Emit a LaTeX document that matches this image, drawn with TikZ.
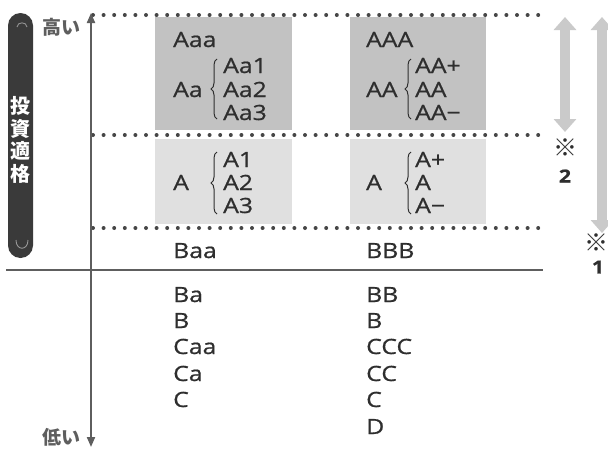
\documentclass[tikz,border=0pt]{standalone}
\usepackage{fontspec}
\setmainfont{Open Sans}[FakeStretch=1.18, FakeBold=0.8]
\newfontfamily\jp{Noto Sans CJK JP}
\usetikzlibrary{arrows.meta,decorations.pathreplacing}
\definecolor{txt}{HTML}{2E2E2E}
\definecolor{pill}{HTML}{3A3A3A}
\definecolor{darkbox}{HTML}{C2C2C2}
\definecolor{lightbox}{HTML}{E0E0E0}
\definecolor{dotc}{HTML}{464646}
\definecolor{axisc}{HTML}{5E5E5E}
\definecolor{grayarrow}{HTML}{CACACA}
\tikzset{
  lbl/.style={anchor=base west, inner sep=0pt, text=txt, font=\fontsize{21}{21}\selectfont},
  jplbl/.style={anchor=center, inner sep=0pt, text=axisc, font=\jp\bfseries\fontsize{19}{19}\selectfont},
  pilltxt/.style={anchor=center, inner sep=0pt, text=white, font=\jp\bfseries\fontsize{20}{20}\selectfont},
  notelbl/.style={anchor=center, inner sep=0pt, text=txt, font=\jp\bfseries\fontsize{24}{24}\selectfont},
  numlbl/.style={anchor=center, inner sep=0pt, text=txt, font=\bfseries\fontsize{18}{18}\selectfont},
  dotline/.style={line width=4pt, line cap=round, dash pattern=on 0pt off 10.6pt, draw=dotc},
  axisline/.style={line width=2pt, draw=axisc, {Triangle[width=8pt,length=10pt]}-{Triangle[width=8pt,length=10pt]}},
  rangearrow/.style={line width=10pt, draw=grayarrow, {Triangle[width=22pt,length=13pt]}-{Triangle[width=22pt,length=13pt]}},
  bracestyle/.style={decorate, decoration={brace, amplitude=6pt}, line width=1pt, draw=txt},
}
\begin{document}
\begin{tikzpicture}[x=1pt,y=-1pt]
\useasboundingbox (0,0) rectangle (608,450);
\fill[white] (0,0) rectangle (608,450);

% shaded boxes
\fill[darkbox] (155,17) rectangle (292,130);
\fill[lightbox] (155,139) rectangle (292,224);
\fill[darkbox] (350,17) rectangle (486,130);
\fill[lightbox] (350,139) rectangle (486,224);

% dotted lines
\coordinate (d1a) at (93,15);  \coordinate (d1b) at (545,15);
\coordinate (d2a) at (93,135); \coordinate (d2b) at (545,135);
\coordinate (d3a) at (93,228); \coordinate (d3b) at (545,228);
\draw[dotline] (d1a) -- (d1b);
\draw[dotline] (d2a) -- (d2b);
\draw[dotline] (d3a) -- (d3b);

% horizontal solid line
\coordinate (hl1) at (6,270); \coordinate (hl2) at (543,270);
\draw[line width=2.4pt, draw=axisc] (hl1) -- (hl2);

% vertical axis
\coordinate (axtop) at (91,13);
\coordinate (axbot) at (91,447);
\draw[axisline] (axbot) -- (axtop);
\node[jplbl] (high) at (61,27) {高い};
\node[jplbl] (low) at (61,437) {低い};

% pill
\fill[pill, rounded corners=12.5pt] (8,13) rectangle (33,258);
\draw[draw=gray!85, line width=0.9pt] (17,27) .. controls (17,21.5) and (27,21.5) .. (27,27);
\draw[draw=gray!80, line width=0.9pt] (16,240) .. controls (16,251) and (28,251) .. (28,240);
\node[pilltxt] (p1) at (20.5,106) {投};
\node[pilltxt] (p2) at (20.5,128.5) {資};
\node[pilltxt] (p3) at (20.5,151) {適};
\node[pilltxt] (p4) at (20.5,173.5) {格};

% left column
\node[lbl] (Aaa) at (173,47) {Aaa};
\node[lbl] (Aa) at (173,97) {Aa};
\node[lbl] (Aa1) at (223,73) {Aa1};
\node[lbl] (Aa2) at (223,97) {Aa2};
\node[lbl] (Aa3) at (223,120) {Aa3};
\draw[bracestyle] (217,119) -- (217,59);
\node[lbl] (A) at (173,190) {A};
\node[lbl] (A1) at (223,167) {A1};
\node[lbl] (A2) at (223,190) {A2};
\node[lbl] (A3) at (223,213) {A3};
\draw[bracestyle] (217,214) -- (217,152);
\node[lbl] (Baa) at (173,258) {Baa};
\node[lbl] (Ba) at (173,302) {Ba};
\node[lbl] (B) at (173,328) {B};
\node[lbl] (Caa) at (173,354) {Caa};
\node[lbl] (Ca) at (173,381) {Ca};
\node[lbl] (C) at (173,407) {C};

% right column
\node[lbl] (AAA) at (366,47) {AAA};
\node[lbl] (AA) at (366,97) {AA};
\node[lbl] (AAp) at (415,73) {AA+};
\node[lbl] (AAm) at (415,97) {AA};
\node[lbl] (AAmm) at (415,120) {AA−};
\draw[bracestyle] (411,119) -- (411,59);
\node[lbl] (Ar) at (366,190) {A};
\node[lbl] (Ap) at (415,167) {A+};
\node[lbl] (Am) at (415,190) {A};
\node[lbl] (Amm) at (415,213) {A−};
\draw[bracestyle] (411,214) -- (411,152);
\node[lbl] (BBB) at (366,258) {BBB};
\node[lbl] (BB) at (366,302) {BB};
\node[lbl] (Br) at (366,328) {B};
\node[lbl] (CCC) at (366,354) {CCC};
\node[lbl] (CC) at (366,381) {CC};
\node[lbl] (Cr) at (366,407) {C};
\node[lbl] (D) at (366,434) {D};

% range arrows
\coordinate (r2t) at (565,17); \coordinate (r2b) at (565,132);
\draw[rangearrow] (r2t) -- (r2b);
\node[notelbl] (n2a) at (565,148) {※};
\node[numlbl] (n2b) at (565,176) {2};
\coordinate (r1t) at (602,17); \coordinate (r1b) at (602,233);
\draw[rangearrow] (r1t) -- (r1b);
\node[notelbl] (n1a) at (596,243) {※};
\node[numlbl] (n1b) at (598,267) {1};
\end{tikzpicture}
\end{document}
